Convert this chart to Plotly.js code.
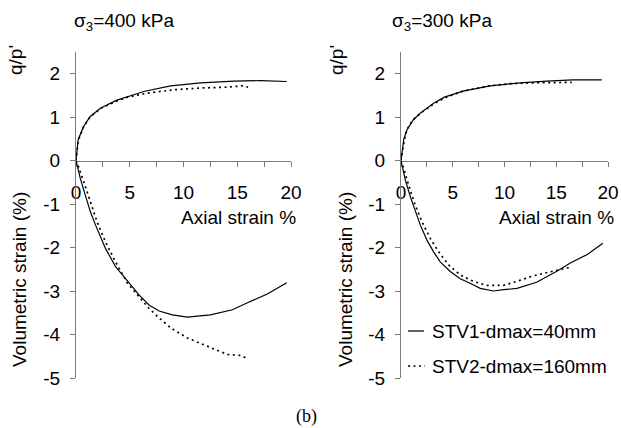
<!DOCTYPE html>
<html>
<head>
<meta charset="utf-8">
<script src="https://cdn.plot.ly/plotly-3.0.1.min.js"></script>
<style>html,body{margin:0;padding:0;background:#fff;}#chart{width:621px;height:428px;}</style>
</head>
<body>
<div id="chart"></div>
<script>
// ---- Data ----
const seriesNames = ["STV1-dmax=40mm", "STV2-dmax=160mm"];
const panelTitles = ["σ<sub>3</sub>=400 kPa", "σ<sub>3</sub>=300 kPa"];

// σ3 = 400 kPa : q/p' vs axial strain
const q400_stv1_x = [0, 0.2, 0.7, 1.3, 2.3, 3.8, 5.3, 6.3, 8.8, 11.6, 14.7, 17.2, 19.6];
const q400_stv1_y = [0, 0.48, 0.78, 1.01, 1.21, 1.39, 1.51, 1.59, 1.72, 1.79, 1.83, 1.84, 1.82];
const q400_stv2_x = [0, 0.2, 0.7, 1.3, 2.3, 3.8, 4.8, 6.6, 9.1, 11.6, 14.1, 15.5, 16.0];
const q400_stv2_y = [0, 0.45, 0.77, 1.00, 1.20, 1.37, 1.46, 1.55, 1.63, 1.67, 1.69, 1.72, 1.69];

// σ3 = 400 kPa : volumetric strain vs axial strain
const v400_stv1_x = [0, 0.4, 0.87, 1.34, 1.81, 2.28, 2.74, 3.68, 4.61, 5.86, 6.79, 7.73, 8.97, 10.35, 12.5, 14.55, 15.95, 17.8, 19.6];
const v400_stv1_y = [0, -0.41, -0.80, -1.18, -1.48, -1.75, -2.02, -2.44, -2.71, -3.09, -3.32, -3.46, -3.55, -3.60, -3.55, -3.43, -3.27, -3.07, -2.81];
const v400_stv2_x = [0, 0.25, 0.72, 1.34, 1.96, 2.74, 3.68, 4.79, 5.86, 6.79, 7.73, 8.82, 10.35, 12.2, 14.1, 15.3, 16.0];
const v400_stv2_y = [0, -0.15, -0.49, -0.95, -1.41, -1.87, -2.33, -2.82, -3.13, -3.40, -3.62, -3.85, -4.08, -4.26, -4.46, -4.48, -4.56];

// σ3 = 300 kPa : q/p' vs axial strain
const q300_stv1_x = [0, 0.26, 0.58, 1.2, 1.86, 3.15, 4.2, 6.0, 8.6, 11.5, 14.1, 16.6, 19.4];
const q300_stv1_y = [0, 0.48, 0.71, 0.94, 1.09, 1.32, 1.46, 1.60, 1.72, 1.79, 1.83, 1.86, 1.86];
const q300_stv2_x = [0, 0.2, 0.42, 0.8, 1.3, 2.0, 3.2, 4.3, 6.0, 8.6, 10.5, 12.8, 14.5, 16.5];
const q300_stv2_y = [0, 0.25, 0.60, 0.82, 0.97, 1.11, 1.31, 1.45, 1.60, 1.72, 1.77, 1.79, 1.80, 1.80];

// σ3 = 300 kPa : volumetric strain vs axial strain
const v300_stv1_x = [0, 0.42, 0.90, 1.38, 1.86, 2.51, 3.15, 3.79, 4.76, 5.72, 6.68, 7.65, 8.94, 9.9, 11.2, 13.1, 15.1, 16.4, 18.0, 19.5];
const v300_stv1_y = [0, -0.45, -0.83, -1.18, -1.48, -1.83, -2.10, -2.33, -2.55, -2.72, -2.82, -2.94, -3.00, -2.97, -2.94, -2.80, -2.54, -2.35, -2.16, -1.90];
const v300_stv2_x = [0, 0.26, 0.74, 1.38, 2.03, 2.83, 3.63, 4.60, 5.72, 7.0, 8.29, 9.9, 10.9, 12.8, 14.4, 16.4];
const v300_stv2_y = [0, -0.18, -0.57, -1.03, -1.41, -1.79, -2.10, -2.40, -2.63, -2.78, -2.87, -2.87, -2.80, -2.65, -2.56, -2.45];

const xTickVals = [0, 5, 10, 15, 20];
const xTickText = ["0", "5", "10", "15", "20"];
const qTickVals = [0, 1, 2];
const qTickText = ["0", "1", "2"];
const vTickVals = [-1, -2, -3, -4, -5];
const vTickText = ["-1", "-2", "-3", "-4", "-5"];

// ---- Styling ----
const FONT = "Arial, 'Liberation Sans', sans-serif";
const FS = 19;
const AXC = "#7a7a7a";
const solid = {color: "#000", width: 1.2, dash: "solid"};
const dotted = {color: "#000", width: 1.7, dash: "2px,3.5px"};

function tr(x, y, xa, ya, line, name) {
  return {x: x, y: y, xaxis: xa, yaxis: ya, type: "scatter", mode: "lines",
          line: line, name: name, showlegend: false, hoverinfo: "skip"};
}

const data = [
  tr(q400_stv1_x, q400_stv1_y, "x", "y", solid, seriesNames[0]),
  tr(q400_stv2_x, q400_stv2_y, "x", "y", dotted, seriesNames[1]),
  tr(v400_stv1_x, v400_stv1_y, "x", "y2", solid, seriesNames[0]),
  tr(v400_stv2_x, v400_stv2_y, "x", "y2", dotted, seriesNames[1]),
  tr(q300_stv1_x, q300_stv1_y, "x2", "y3", solid, seriesNames[0]),
  tr(q300_stv2_x, q300_stv2_y, "x2", "y3", dotted, seriesNames[1]),
  tr(v300_stv1_x, v300_stv1_y, "x2", "y4", solid, seriesNames[0]),
  tr(v300_stv2_x, v300_stv2_y, "x2", "y4", dotted, seriesNames[1])
];

// geometry of plot area (pixels): left 76, right 608, top 52, bottom 378
const L = 76, R = 608, T = 52, B = 378;
const W = R - L, H = B - T;
const px = v => (v - L) / W;
const py = v => (B - v) / H;
const ySplit = py(160.5);

function xAxis(domain, anchor) {
  return {domain: domain, anchor: anchor, range: [0, 20], tickvals: xTickVals, ticktext: xTickText,
          ticks: "outside", ticklen: 5, tickcolor: AXC, tickwidth: 1,
          minor: {dtick: 2.5, ticks: "outside", ticklen: 5, tickcolor: AXC, tickwidth: 1},
          showline: true, linecolor: AXC, linewidth: 1, showgrid: false, zeroline: false,
          ticklabelstandoff: 10, tickfont: {family: FONT, size: FS, color: "#000"}, fixedrange: true};
}
function yAxis(domain, anchor, range, tv, tt) {
  return {domain: domain, anchor: anchor, range: range, tickvals: tv, ticktext: tt,
          ticks: "outside", ticklen: 5, tickcolor: AXC, tickwidth: 1,
          showline: true, linecolor: AXC, linewidth: 1, showgrid: false, zeroline: false,
          ticklabelstandoff: 6, tickfont: {family: FONT, size: FS, color: "#000"}, fixedrange: true};
}

const ann = (text, x, y, opts) => Object.assign({text: text, x: x, y: y, xref: "paper", yref: "paper",
  showarrow: false, xanchor: "center", yanchor: "middle", font: {family: FONT, size: FS, color: "#000"}}, opts || {});

const leftDom = [0, px(291)];
const rightDom = [px(401), 1];

const layout = {
  width: 621, height: 428,
  margin: {l: L, r: 621 - R, t: T, b: 428 - B, pad: 0},
  paper_bgcolor: "#fff", plot_bgcolor: "#fff",
  showlegend: false,
  xaxis: xAxis(leftDom, "y"),
  xaxis2: xAxis(rightDom, "y3"),
  yaxis: yAxis([ySplit, 1], "x", [0, 2.5], qTickVals, qTickText),
  yaxis2: yAxis([0, ySplit], "x", [-5, 0], vTickVals, vTickText),
  yaxis3: yAxis([ySplit, 1], "x2", [0, 2.5], qTickVals, qTickText),
  yaxis4: yAxis([0, ySplit], "x2", [-5, 0], vTickVals, vTickText),
  annotations: [
    ann(panelTitles[0], px(124), py(22)),
    ann(panelTitles[1], px(442), py(22)),
    ann("q/p'", px(16), py(60), {textangle: -90}),
    ann("q/p'", px(337), py(60), {textangle: -90}),
    ann("Volumetric strain (%)", px(19), py(280), {textangle: -90}),
    ann("Volumetric strain (%)", px(345), py(280), {textangle: -90}),
    ann("Axial strain %", px(298), py(218), {xanchor: "right"}),
    ann("Axial strain %", px(616), py(218), {xanchor: "right"}),
    ann(seriesNames[0], px(430), py(331), {xanchor: "left"}),
    ann(seriesNames[1], px(430), py(366), {xanchor: "left"}),
    ann("(b)", px(306), py(416), {font: {family: "'Times New Roman', 'Liberation Serif', serif", size: 18, color: "#000"}})
  ],
  shapes: [
    {type: "line", xref: "paper", yref: "paper", x0: px(408), x1: px(424), y0: py(331), y1: py(331), line: {color: "#000", width: 1.2}},
    {type: "line", xref: "paper", yref: "paper", x0: px(408), x1: px(425), y0: py(366), y1: py(366), line: {color: "#000", width: 1.7, dash: "2px,3.5px"}}
  ]
};

Plotly.newPlot("chart", data, layout, {staticPlot: true, displayModeBar: false});
</script>
</body>
</html>
